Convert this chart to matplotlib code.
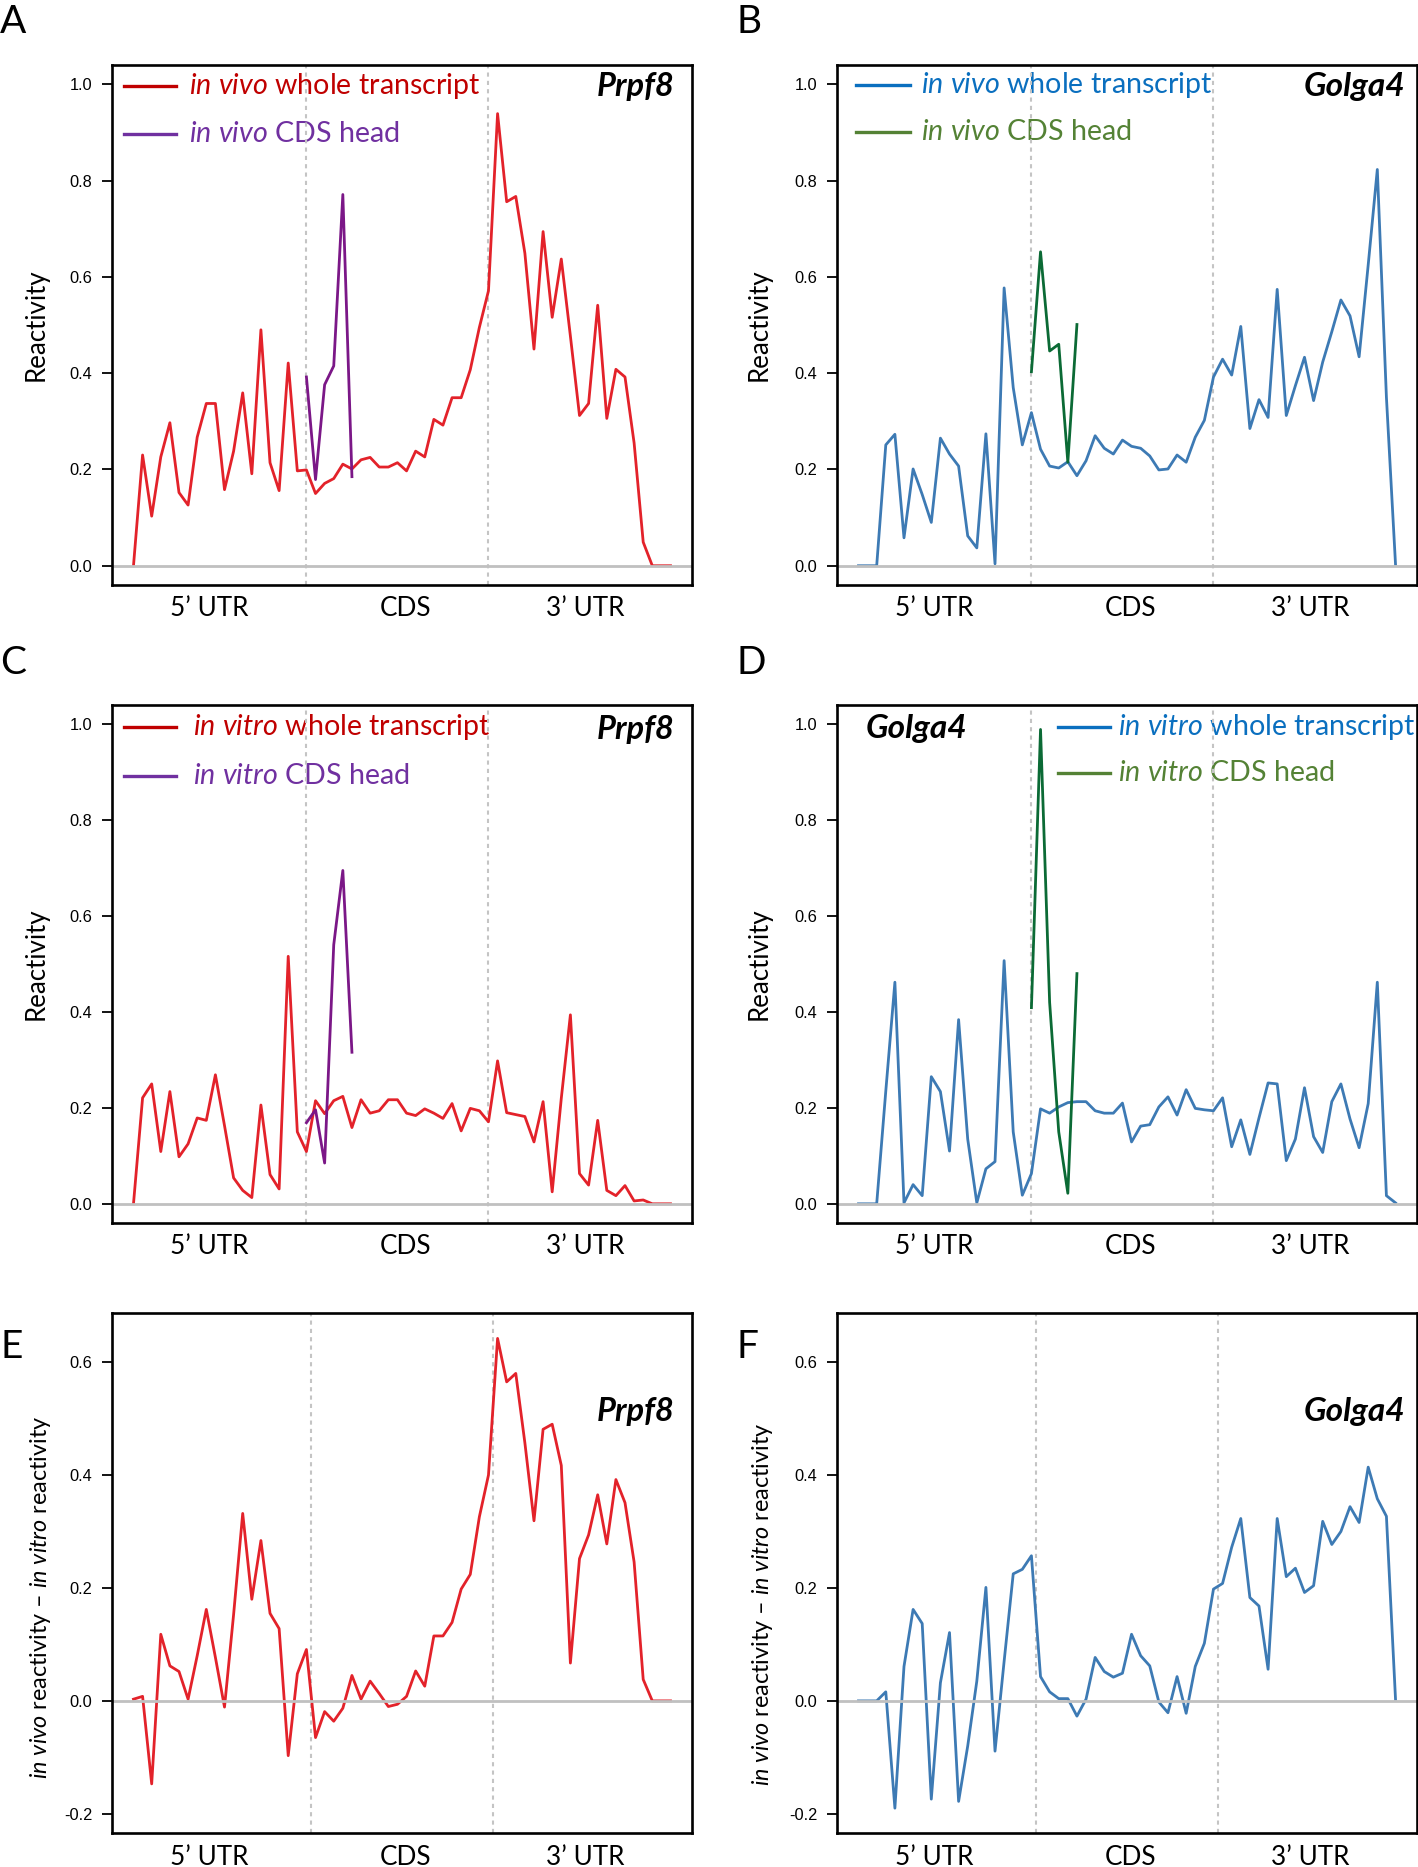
import numpy as np
import matplotlib
matplotlib.use("Agg")
import matplotlib.pyplot as plt
from matplotlib.lines import Line2D

plt.rcParams['font.family'] = ['Lato', 'DejaVu Sans']
plt.rcParams['mathtext.fontset'] = 'custom'
plt.rcParams['mathtext.rm'] = 'Lato'
plt.rcParams['mathtext.it'] = 'Lato:italic'
plt.rcParams['mathtext.bf'] = 'Lato:bold'

# ---------------- data ----------------
n_bins = 60
head_start = 20          # first bin of the CDS head trace
regions = ["5\u2019 UTR", "CDS", "3\u2019 UTR"]

# A: Prpf8 in vivo
prpf8_vivo_whole = [0.0, 0.23, 0.103, 0.226, 0.297, 0.152, 0.126, 0.267, 0.337, 0.337,
                    0.158, 0.238, 0.359, 0.191, 0.49, 0.214, 0.156, 0.421, 0.197, 0.199,
                    0.150, 0.171, 0.181, 0.211, 0.201, 0.22, 0.225, 0.205, 0.205, 0.214,
                    0.197, 0.238, 0.226, 0.304, 0.292, 0.349, 0.349, 0.407, 0.495, 0.571,
                    0.939, 0.756, 0.767, 0.649, 0.45, 0.694, 0.516, 0.637, 0.477, 0.312,
                    0.337, 0.541, 0.306, 0.408, 0.392, 0.255, 0.049, 0.0, 0.0, 0.0]
prpf8_vivo_head = [0.392, 0.179, 0.376, 0.415, 0.771, 0.185]

# B: Golga4 in vivo
golga4_vivo_whole = [0.0, 0.0, 0.0, 0.251, 0.273, 0.058, 0.201, 0.148, 0.09, 0.265,
                     0.232, 0.207, 0.062, 0.037, 0.274, 0.004, 0.577, 0.37, 0.251, 0.318,
                     0.242, 0.207, 0.203, 0.216, 0.187, 0.218, 0.27, 0.244, 0.232, 0.261,
                     0.248, 0.244, 0.228, 0.199, 0.201, 0.23, 0.215, 0.267, 0.302, 0.392,
                     0.429, 0.396, 0.497, 0.285, 0.345, 0.308, 0.574, 0.312, 0.374, 0.433,
                     0.343, 0.423, 0.486, 0.552, 0.519, 0.434, 0.625, 0.823, 0.35, 0.003]
golga4_vivo_head = [0.403, 0.652, 0.446, 0.46, 0.215, 0.501]

# C: Prpf8 in vitro
prpf8_vitro_whole = [0.0, 0.221, 0.25, 0.109, 0.234, 0.098, 0.125, 0.179, 0.174, 0.269,
                     0.163, 0.054, 0.028, 0.013, 0.206, 0.061, 0.031, 0.516, 0.150, 0.109,
                     0.215, 0.188, 0.215, 0.224, 0.159, 0.217, 0.189, 0.194, 0.217, 0.217,
                     0.189, 0.184, 0.198, 0.189, 0.178, 0.209, 0.152, 0.199, 0.194, 0.171,
                     0.298, 0.19, 0.186, 0.182, 0.129, 0.213, 0.025, 0.22, 0.394, 0.063,
                     0.039, 0.174, 0.028, 0.017, 0.038, 0.006, 0.008, 0.0, 0.0, 0.0]
prpf8_vitro_head = [0.169, 0.196, 0.085, 0.54, 0.695, 0.316]

# D: Golga4 in vitro
golga4_vitro_whole = [0.0, 0.0, 0.0, 0.235, 0.462, 0.002, 0.04, 0.017, 0.265, 0.234,
                      0.11, 0.384, 0.135, 0.002, 0.073, 0.088, 0.507, 0.15, 0.018, 0.063,
                      0.198, 0.189, 0.202, 0.211, 0.213, 0.213, 0.194, 0.189, 0.189, 0.21,
                      0.129, 0.162, 0.165, 0.202, 0.223, 0.185, 0.238, 0.199, 0.196, 0.194,
                      0.221, 0.119, 0.175, 0.103, 0.179, 0.252, 0.25, 0.09, 0.135, 0.242,
                      0.14, 0.107, 0.213, 0.25, 0.177, 0.117, 0.209, 0.462, 0.017, 0.002]
golga4_vitro_head = [0.409, 0.989, 0.42, 0.15, 0.022, 0.48]

# E: Prpf8 in vivo - in vitro
prpf8_diff = [0.003, 0.008, -0.147, 0.118, 0.062, 0.052, 0.003, 0.08, 0.162, 0.077,
              -0.011, 0.153, 0.332, 0.18, 0.284, 0.155, 0.128, -0.097, 0.048, 0.091,
              -0.065, -0.019, -0.036, -0.013, 0.045, 0.003, 0.035, 0.013, -0.01, -0.006,
              0.008, 0.053, 0.026, 0.115, 0.115, 0.139, 0.198, 0.224, 0.326, 0.4,
              0.642, 0.565, 0.58, 0.457, 0.319, 0.481, 0.49, 0.417, 0.067, 0.252,
              0.294, 0.365, 0.278, 0.392, 0.351, 0.246, 0.038, 0.0, 0.0, 0.0]

# F: Golga4 in vivo - in vitro
golga4_diff = [0.0, 0.0, 0.0, 0.016, -0.19, 0.061, 0.162, 0.137, -0.174, 0.032,
               0.121, -0.178, -0.08, 0.035, 0.201, -0.089, 0.07, 0.225, 0.233, 0.257,
               0.043, 0.016, 0.004, 0.004, -0.027, 0.003, 0.077, 0.052, 0.042, 0.049,
               0.118, 0.08, 0.062, -0.002, -0.021, 0.043, -0.022, 0.061, 0.102, 0.198,
               0.208, 0.272, 0.323, 0.183, 0.168, 0.056, 0.323, 0.22, 0.235, 0.192,
               0.204, 0.318, 0.277, 0.3, 0.344, 0.316, 0.414, 0.358, 0.327, 0.003]

# ---------------- styles ----------------
RED, RED_L = '#e3222a', '#c00000'
PUR, PUR_L = '#7b1787', '#7030a0'
BLU, BLU_L = '#3d7ab4', '#0a6fbf'
GRN, GRN_L = '#0b6a35', '#548235'
LW = 2.0

W, H = 1418, 1867
fig = plt.figure(figsize=(W / 100, H / 100), dpi=100)


def add_ax(l, t, w, h):
    return fig.add_axes([l / W, 1 - (t + h) / H, w / W, h / H])


x = np.arange(1, n_bins + 1)
head_x = np.arange(head_start, head_start + len(prpf8_vivo_head))
region_pos = [9.3, 30.9, 50.6]


def base(ax, ylim, yticks, bounds):
    ax.set_xlim(1 - 0.04 * (n_bins - 1), n_bins + 0.04 * (n_bins - 1))
    ax.set_ylim(*ylim)
    ax.set_xticks([])
    ax.set_yticks(yticks)
    ax.set_yticklabels([f"{v:.1f}" for v in yticks], fontfamily='Liberation Sans', fontsize=11.8)
    ax.tick_params(axis='y', direction='out', length=7.2, width=1.3, pad=7)
    for s in ax.spines.values():
        s.set_linewidth(1.9)
    for b in bounds:
        ax.axvline(b, color='#c4c4c4', lw=1.5, dashes=(2, 2), zorder=1.5)
    ax.axhline(0, color='#c0c0c0', lw=2.0, zorder=2.5)
    for p, lab in zip(region_pos, regions):
        ax.text(p, -24 / 520, lab, transform=ax.get_xaxis_transform(), ha='center', va='center',
                fontsize=18.8, clip_on=False)


def legend(ax, items, kx0, kx1, tx, rows):
    for (label, col), ry in zip(items, rows):
        ax.add_line(Line2D([kx0, kx1], [ry, ry], transform=ax.transAxes, color=col, lw=2.4,
                           clip_on=False, zorder=1))
        ax.text(tx, ry, label, transform=ax.transAxes, color=col, fontsize=20.6, ha='left',
                va='center', zorder=1)


def gene(ax, name, gx, gy, ha, fs):
    ax.text(gx, gy, name, transform=ax.transAxes, fontsize=fs, fontweight='bold',
            fontstyle='italic', ha=ha, va='center')


def ylab(ax, text, yy, xo, fs):
    ax.text(xo, yy, text, transform=ax.transAxes, rotation=90, ha='center', va='center',
            fontsize=fs, clip_on=False)


rel_ylim = (-0.04, 1.04)
rel_ticks = [0.0, 0.2, 0.4, 0.6, 0.8, 1.0]
diff_ylim = (-0.234, 0.687)
diff_ticks = [-0.2, 0.0, 0.2, 0.4, 0.6]
diff_label = r'$\mathit{in\ vivo}$ reactivity ' + '\u2013' + r' $\mathit{in\ vitro}$ reactivity'

# A
ax = add_ax(112, 65, 580, 520)
base(ax, rel_ylim, rel_ticks, [20, 40])
ax.plot(x, prpf8_vivo_whole, color=RED, lw=LW, zorder=2)
ax.plot(head_x, prpf8_vivo_head, color=PUR, lw=LW, zorder=3)
legend(ax, [(r'$\mathit{in\ vivo}$ whole transcript', RED_L), (r'$\mathit{in\ vivo}$ CDS head', PUR_L)],
       0.0207, 0.110, 0.133, [0.960, 0.867])
gene(ax, 'Prpf8', 0.969, 0.958, 'right', 23.5)
ylab(ax, 'Reactivity', 0.5, -0.131, 18.6)

# B
ax = add_ax(837, 65, 580, 520)
base(ax, rel_ylim, rel_ticks, [20, 40])
ax.plot(x, golga4_vivo_whole, color=BLU, lw=LW, zorder=2)
ax.plot(head_x, golga4_vivo_head, color=GRN, lw=LW, zorder=3)
legend(ax, [(r'$\mathit{in\ vivo}$ whole transcript', BLU_L), (r'$\mathit{in\ vivo}$ CDS head', GRN_L)],
       0.0328, 0.126, 0.145, [0.962, 0.871])
gene(ax, 'Golga4', 0.979, 0.958, 'right', 24)
ylab(ax, 'Reactivity', 0.5, -0.134, 18.6)

# C
ax = add_ax(112, 705, 580, 518)
base(ax, rel_ylim, rel_ticks, [20, 40])
ax.plot(x, prpf8_vitro_whole, color=RED, lw=LW, zorder=2)
ax.plot(head_x, prpf8_vitro_head, color=PUR, lw=LW, zorder=3)
legend(ax, [(r'$\mathit{in\ vitro}$ whole transcript', RED_L), (r'$\mathit{in\ vitro}$ CDS head', PUR_L)],
       0.0207, 0.110, 0.140, [0.958, 0.863])
gene(ax, 'Prpf8', 0.969, 0.952, 'right', 23.5)
ylab(ax, 'Reactivity', 0.5, -0.131, 18.6)

# D
ax = add_ax(837, 705, 580, 518)
base(ax, rel_ylim, rel_ticks, [20, 40])
ax.plot(x, golga4_vitro_whole, color=BLU, lw=LW, zorder=2)
ax.plot(head_x, golga4_vitro_head, color=GRN, lw=LW, zorder=3)
legend(ax, [(r'$\mathit{in\ vitro}$ whole transcript', BLU_L), (r'$\mathit{in\ vitro}$ CDS head', GRN_L)],
       0.381, 0.471, 0.484, [0.958, 0.869])
gene(ax, 'Golga4', 0.05, 0.954, 'left', 24)
ylab(ax, 'Reactivity', 0.5, -0.134, 18.6)

# E
ax = add_ax(112, 1313, 580, 520)
base(ax, diff_ylim, diff_ticks, [20.5, 40.5])
ax.plot(x, prpf8_diff, color=RED, lw=LW, zorder=2)
gene(ax, 'Prpf8', 0.969, 0.8115, 'right', 23.5)
ylab(ax, diff_label, 0.454, -0.124, 16.8)

# F
ax = add_ax(837, 1313, 580, 520)
base(ax, diff_ylim, diff_ticks, [20.5, 40.5])
ax.plot(x, golga4_diff, color=BLU, lw=LW, zorder=2)
gene(ax, 'Golga4', 0.979, 0.8115, 'right', 24)
ylab(ax, diff_label, 0.44, -0.129, 16.8)

# panel letters
for letter, px, py in [('A', 0, 33), ('B', 736, 33), ('C', 0, 674), ('D', 736, 674),
                       ('E', 0, 1358), ('F', 736, 1358)]:
    fig.text(px / W, 1 - py / H, letter, fontsize=28, ha='left', va='baseline')

fig.savefig('out.png', dpi=100)
